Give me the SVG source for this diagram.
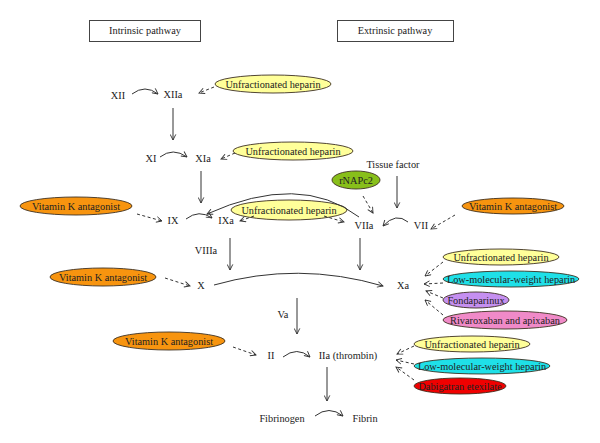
<svg xmlns="http://www.w3.org/2000/svg" width="600" height="443" viewBox="0 0 600 443">
<defs>
<marker id="ah" viewBox="0 0 10 10" refX="9" refY="5" markerWidth="7" markerHeight="7" orient="auto" markerUnits="userSpaceOnUse">
<path d="M1,1 L9,5 L1,9" fill="none" stroke="#333" stroke-width="1.3"/>
</marker>
</defs>
<style>
text{font-family:"Liberation Serif","DejaVu Serif",serif;font-size:10.3px;fill:#222;text-anchor:middle}
.box{fill:#fff;stroke:#444;stroke-width:1}
.el{stroke:#3d3020;stroke-width:0.9}
.s{fill:none;stroke:#333;stroke-width:1;marker-end:url(#ah)}
.d{fill:none;stroke:#333;stroke-width:1;stroke-dasharray:3,2.5;marker-end:url(#ah)}
.y{fill:#ffff99}.o{fill:#f7940f}.c{fill:#1fe0e8}.p{fill:#c58ff0}.k{fill:#f08ac8}.r{fill:#f00000}.g{fill:#88bf1a}
</style>
<rect width="600" height="443" fill="#fff"/>
<g id="intrinsic"><rect class="box" x="89.5" y="20.5" width="111" height="21"/><text x="145" y="34">Intrinsic pathway</text></g>
<g id="extrinsic"><rect class="box" x="337.5" y="20.5" width="116" height="21"/><text x="395" y="34">Extrinsic pathway</text></g>

<g id="XII"><text x="118" y="99">XII</text></g>
<g id="XIIa"><text x="173" y="98">XIIa</text></g>
<g id="XI"><text x="151" y="162">XI</text></g>
<g id="XIa"><text x="203" y="162">XIa</text></g>
<g id="IX"><text x="173" y="224">IX</text></g>
<g id="IXa"><text x="226" y="224">IXa</text></g>
<g id="VIIa"><text x="364" y="229">VIIa</text></g>
<g id="VII"><text x="421" y="229">VII</text></g>
<g id="TF"><text x="393" y="168">Tissue factor</text></g>
<g id="VIIIa"><text x="206" y="254">VIIIa</text></g>
<g id="X"><text x="201" y="289">X</text></g>
<g id="Xa"><text x="403" y="289">Xa</text></g>
<g id="Va"><text x="283" y="318">Va</text></g>
<g id="II"><text x="271" y="359">II</text></g>
<g id="IIa"><text x="348" y="359">IIa (thrombin)</text></g>
<g id="Fibrinogen"><text x="282" y="422">Fibrinogen</text></g>
<g id="Fibrin"><text x="365" y="422">Fibrin</text></g>

<g id="ufh1"><ellipse class="el y" cx="273" cy="84" rx="58" ry="9"/><text x="273" y="87.5">Unfractionated heparin</text></g>
<g id="ufh2"><ellipse class="el y" cx="293" cy="151" rx="60" ry="9"/><text x="293" y="154.5">Unfractionated heparin</text></g>
<g id="ufh3"><ellipse class="el y" cx="289" cy="210" rx="58" ry="10"/><text x="289" y="213.5">Unfractionated heparin</text></g>
<g id="rnapc2"><ellipse class="el g" cx="356" cy="180" rx="24" ry="9"/><text x="356" y="183.5">rNAPc2</text></g>
<g id="vka1"><ellipse class="el o" cx="76" cy="206" rx="56" ry="9"/><text x="76" y="209.5">Vitamin K antagonist</text></g>
<g id="vka2"><ellipse class="el o" cx="513" cy="206" rx="51" ry="8"/><text x="513" y="209.5">Vitamin K antagonist</text></g>
<g id="vka3"><ellipse class="el o" cx="103" cy="277" rx="53" ry="9"/><text x="103" y="280.5">Vitamin K antagonist</text></g>
<g id="vka4"><ellipse class="el o" cx="169" cy="341" rx="56" ry="9"/><text x="169" y="344.5">Vitamin K antagonist</text></g>
<g id="ufh4"><ellipse class="el y" cx="501" cy="257" rx="58" ry="8"/><text x="501" y="260.5">Unfractionated heparin</text></g>
<g id="lmwh1"><ellipse class="el c" cx="511" cy="279" rx="68" ry="8"/><text x="511" y="282.5">Low-molecular-weight heparin</text></g>
<g id="fonda"><ellipse class="el p" cx="476" cy="300" rx="33" ry="8"/><text x="476" y="303.5">Fondaparinux</text></g>
<g id="riva"><ellipse class="el k" cx="505" cy="320" rx="62" ry="9"/><text x="505" y="323.5">Rivaroxaban and apixaban</text></g>
<g id="ufh5"><ellipse class="el y" cx="472" cy="344" rx="58" ry="8"/><text x="472" y="347.5">Unfractionated heparin</text></g>
<g id="lmwh2"><ellipse class="el c" cx="482" cy="366" rx="68" ry="8"/><text x="482" y="369.5">Low-molecular-weight heparin</text></g>
<g id="dabi"><ellipse class="el r" cx="460" cy="386" rx="46" ry="8"/><text x="460" y="389.5">Dabigatran etexilate</text></g>

<g id="connectors">
<path class="s" d="M132,94 Q145,84 158,94"/>
<path class="s" d="M173,108 V140"/>
<path class="s" d="M160,157 Q173,147 187,157"/>
<path class="s" d="M201,171 V203"/>
<path class="s" d="M186,219 Q199,209 212,218"/>
<path class="s" d="M359,217 Q300,172 207,214"/>
<path class="s" d="M408,222 Q396,212 383,226"/>
<path class="s" d="M397,176 V208"/>
<path class="s" d="M230,238 V270"/>
<path class="s" d="M360,238 V270"/>
<path class="s" d="M214,285 Q298,261 383,286"/>
<path class="s" d="M297,298 V334"/>
<path class="s" d="M283,357 Q297,346 310,357"/>
<path class="s" d="M327,367 V401"/>
<path class="s" d="M315,416 Q329,405 343,416"/>

<path class="d" d="M214,87 L199,93"/>
<path class="d" d="M235,153 L221,159"/>
<path class="d" d="M137,214 L162,221"/>
<path class="d" d="M254,216 L240,221"/>
<path class="d" d="M324,216 L344,222"/>
<path class="d" d="M363,196 L373,213"/>
<path class="d" d="M455,215 L431,229"/>
<path class="d" d="M165,278 L190,286"/>
<path class="d" d="M443,262 L425,276"/>
<path class="d" d="M443,283 L424,284"/>
<path class="d" d="M443,298 L426,291"/>
<path class="d" d="M443,315 L425,300"/>
<path class="d" d="M233,347 L256,355"/>
<path class="d" d="M414,346 L397,354"/>
<path class="d" d="M414,364 L396,360"/>
<path class="d" d="M414,380 L396,367"/>
</g>
</svg>
